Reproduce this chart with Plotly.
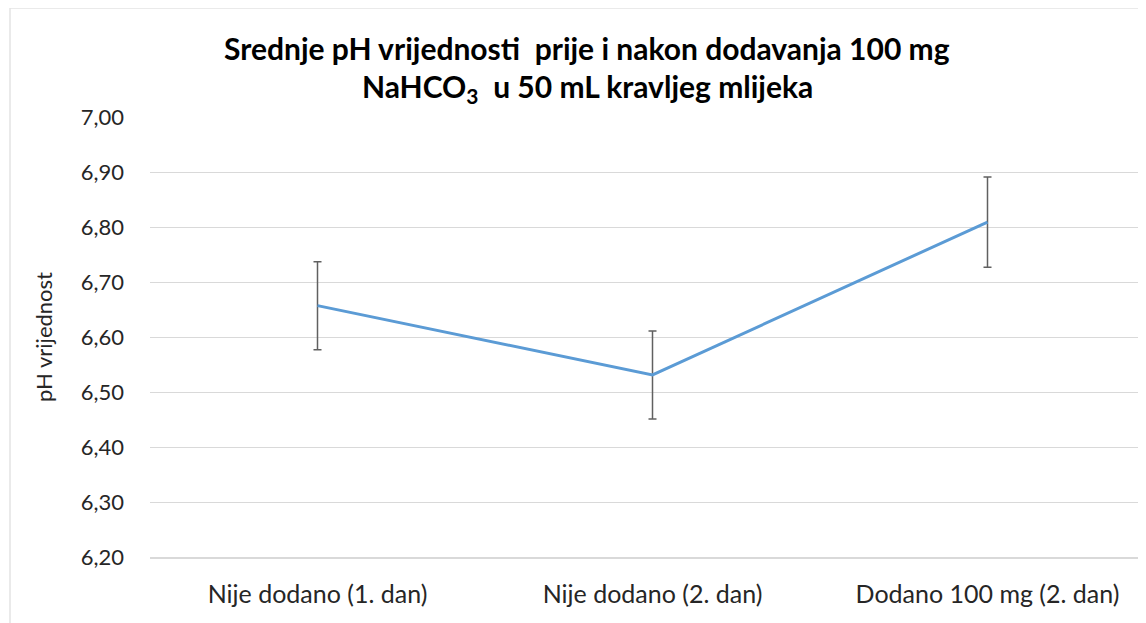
import plotly.graph_objects as go

# chart data
categories = ["Nije dodano (1. dan)", "Nije dodano (2. dan)", "Dodano 100 mg (2. dan)"]
ph_mean = [6.657, 6.531, 6.809]
ph_err = [0.080, 0.080, 0.082]
y_ticks = [6.2, 6.3, 6.4, 6.5, 6.6, 6.7, 6.8, 6.9, 7.0]

FONT = "Lato"
OFF = 8  # page body margin
W, H = 1146 - OFF, 623 - OFF
L, R, T, B = 150 - OFF, 0, 117 - OFF, 66
plot_h = H - T - B
plot_w = W - L - R


def py(px):
    # screen pixel row -> paper y
    return 1 + (T - (px - OFF)) / plot_h


def px_x(px):
    # screen pixel column -> paper x
    return (px - OFF - L) / plot_w


fig = go.Figure()

fig.add_trace(go.Scatter(
    x=categories,
    y=ph_mean,
    mode="lines",
    line=dict(color="#5B9BD5", width=3),
    error_y=dict(type="data", array=ph_err, visible=True,
                 color="#606060", thickness=1.5, width=4),
    showlegend=False,
    hoverinfo="x+y",
))

fig.update_layout(
    width=W, height=H,
    margin=dict(l=L, r=R, t=T, b=B),
    paper_bgcolor="white",
    plot_bgcolor="white",
    separators=", ",
    font=dict(family=FONT, color="#262626"),
    annotations=[
        dict(text="<b>Srednje pH vrijednosti \u00a0prije i nakon dodavanja 100 mg</b>",
             x=px_x(587), y=py(48), xref="paper", yref="paper",
             xanchor="center", yanchor="middle", showarrow=False,
             font=dict(size=30, family=FONT, color="#000000")),
        dict(text="<b>NaHCO<sub>3</sub> \u00a0u 50 mL kravljeg mlijeka</b>",
             x=px_x(587), y=py(88), xref="paper", yref="paper",
             xanchor="center", yanchor="middle", showarrow=False,
             font=dict(size=30, family=FONT, color="#000000")),
    ],
    shapes=[
        dict(type="line", xref="paper", yref="paper",
             x0=px_x(10), x1=px_x(10), y0=py(8), y1=py(623),
             line=dict(color="#e3e3e3", width=1.5)),
        dict(type="line", xref="paper", yref="paper",
             x0=px_x(10), x1=px_x(1146), y0=py(8), y1=py(8),
             line=dict(color="#e3e3e3", width=1.5)),
    ],
)

fig.update_xaxes(
    type="category",
    range=[-0.5, -0.5 + plot_w / 335],
    showgrid=False,
    showline=True, linecolor="#d9d9d9", linewidth=1.5,
    ticks="", ticklabelstandoff=14,
    tickfont=dict(size=25, family=FONT, color="#262626"),
)

fig.update_yaxes(
    range=[6.2, 7.0],
    tickvals=y_ticks,
    tickformat=".2f",
    showgrid=True, gridcolor="#d9d9d9", gridwidth=1,
    zeroline=False,
    ticks="", ticklabelstandoff=25,
    tickfont=dict(size=22, family=FONT, color="#262626"),
    title=dict(text="pH vrijednost", standoff=22,
               font=dict(size=22, family=FONT, color="#262626")),
)

fig.write_html("out.html")
